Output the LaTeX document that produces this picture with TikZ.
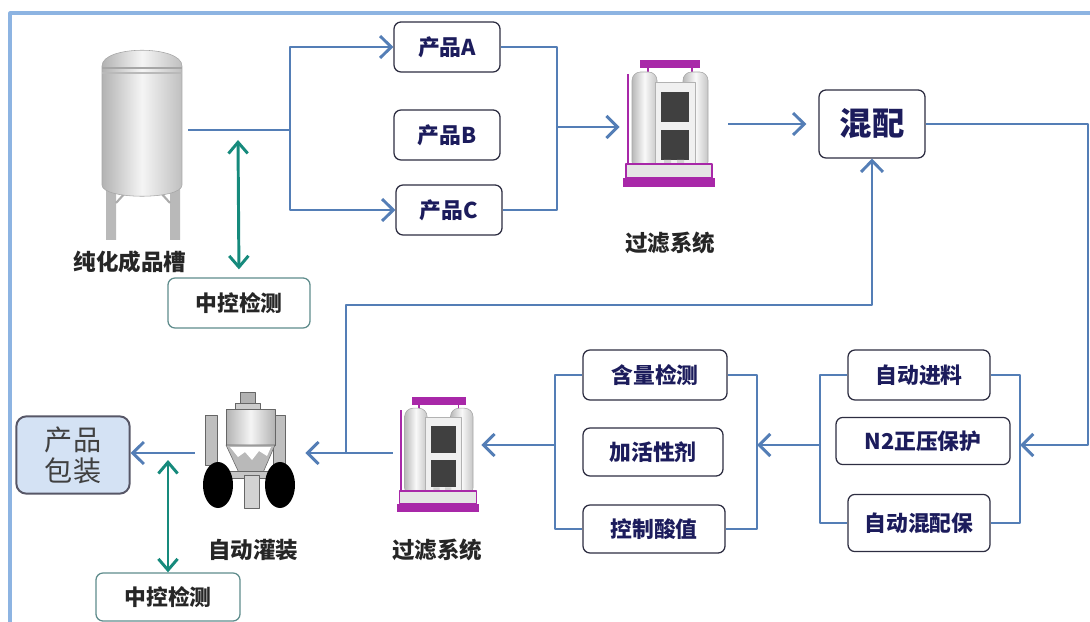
\documentclass[tikz,border=0pt]{standalone}
\usepackage{fontspec}
\newfontfamily\cjk{Noto Sans CJK SC}
\usetikzlibrary{arrows.meta}
\definecolor{flowblue}{RGB}{84,126,182}
\definecolor{framecol}{RGB}{141,180,226}
\definecolor{qcteal}{RGB}{22,138,124}
\definecolor{boxtext}{RGB}{28,28,92}
\definecolor{boxline}{RGB}{45,45,65}
\definecolor{qcline}{RGB}{95,140,140}
\definecolor{packfill}{RGB}{212,226,244}
\definecolor{fcol}{RGB}{168,40,168}

% bộ lọc: tâm x, tâm y, tỉ lệ
\newcommand{\filterpic}[3]{%
	\begin{scope}[shift={(#1,#2)},scale=#3]
		\fill[fcol] (-28,-64) rectangle (32,-56);
		\draw[fcol,line width=1pt] (-20,-56) -- (-20,-48) (24,-56) -- (24,-48);
		\draw[fcol,line width=1.2pt] (-40,-50) -- (-40,54);
		\shade[left color=gray!55,right color=gray!45,middle color=gray!5,draw=gray!70,rounded corners=6] (-36,-52) rectangle (-11,46);
		\shade[left color=gray!55,right color=gray!45,middle color=gray!5,draw=gray!70,rounded corners=6] (15,-52) rectangle (40,46);
		\fill[gray!12,draw=gray!60] (-13,-42) rectangle (27,46);
		\fill[black!75] (-7,-32) rectangle (21,-2);
		\fill[black!75] (-7,6) rectangle (21,36);
		\fill[gray!35] (-4,36) rectangle (3,48) (9,36) rectangle (16,48);
		\fill[gray!20,draw=fcol,line width=0.8pt] (-42,40) rectangle (44,54);
		\fill[fcol] (-45,54) rectangle (47,63);
	\end{scope}}

\begin{document}
\begin{tikzpicture}[x=0.025cm,y=-0.025cm,>={Straight Barb[length=2.8mm,width=5.5mm]},line join=round,
	box/.style={draw=boxline,fill=white,rounded corners=5pt,line width=0.9pt,text=boxtext,inner sep=0pt,
		font=\cjk\bfseries\fontsize{15.5}{15.5}\selectfont,minimum height=1.25cm},
	qcbox/.style={box,draw=qcline,text=black!85},
	packbox/.style={draw=boxline!80,fill=packfill,rounded corners=7pt,line width=1.4pt,text=black!75,
		font=\cjk\fontsize{20}{22}\selectfont,align=center,minimum width=2.83cm,minimum height=1.93cm,inner sep=0pt},
	lbl/.style={font=\cjk\bfseries\fontsize{16}{16}\selectfont,text=black!85},
	icon/.style={inner sep=0pt},
	flow/.style={draw=flowblue,line width=2.1pt},
	qc/.style={draw=qcteal,line width=2.1pt,{Straight Barb[length=2.8mm,width=4.8mm]}-{Straight Barb[length=2.8mm,width=4.8mm]}}]
	\useasboundingbox (0,0) rectangle (1090,622);
	\draw[framecol,line width=2.2pt] (1092,13) -- (10,13) -- (10,624);
	
	% bể chứa
	\fill[gray!55] (106,185) rectangle (116,240) (170,185) rectangle (180,240);
	\draw[gray!65,line width=1.5pt] (116,203) -- (126,192) (170,203) -- (160,192);
	\shade[left color=gray!60,right color=gray!50,middle color=gray!8,draw=gray!70] (102,66) .. controls (102,45) and (182,45) .. (182,66) -- (182,185) .. controls (182,200) and (102,200) .. (102,185) -- cycle;
	\draw[gray!70,line width=1.5pt] (102,68) -- (182,68);
	\draw[gray!55,line width=0.8pt] (102,73) -- (182,73);
	
	% các bộ lọc
	\filterpic{668}{124}{1}
	\filterpic{437}{455}{0.9}
	
	% máy chiết rót
	\begin{scope}[shift={(250,453)}]
		\fill[gray!60,draw=black!60] (-10,-61) rectangle (5,-49);
		\fill[gray!40,draw=black!60] (-15,-50) rectangle (10,-44);
		\fill[gray!50,draw=black!60] (-45,-38) rectangle (-33,12) (23,-38) rectangle (35,12);
		\shade[left color=gray!60,right color=gray!60,middle color=gray!8,draw=black!60] (-24,-44) rectangle (25,-8);
		\fill[gray!55,draw=black!60] (-24,-8) -- (25,-8) -- (12,22) -- (-10,22) -- cycle;
		\fill[white] (-20,-6) -- (21,-6) -- (17,3) -- (9,-2) -- (2,7) -- (-5,-1) -- (-12,4) -- cycle;
		\fill[gray!45,draw=black!60] (-35,18) rectangle (35,25);
		\fill[gray!35,draw=black!60] (-6,22) rectangle (9,55);
		\fill[black] (-32,32) ellipse [x radius=15,y radius=23];
		\fill[black] (30,32) ellipse [x radius=15,y radius=23];
	\end{scope}
	
	\node[icon,minimum width=2.7cm,minimum height=3.2cm] (tank) at (142,145) {};
	\node[icon,minimum width=2.7cm,minimum height=3.2cm] (filtA) at (674,124) {};
	\node[icon,minimum width=2.2cm,minimum height=3cm] (filtB) at (437,449) {};
	\node[icon,minimum width=2.75cm,minimum height=3cm] (fill) at (250,453) {};
	
	\node[lbl] (tanklbl) at (130,262) {纯化成品槽};
	\node[lbl] (filtAlbl) at (670,243) {过滤系统};
	\node[lbl] (filllbl) at (253,550) {自动灌装};
	\node[lbl] (filtBlbl) at (437,550) {过滤系统};
	
	\node[box,minimum width=2.65cm] (pa) at (447,47) {产品A};
	\node[box,minimum width=2.65cm] (pb) at (447,135) {产品B};
	\node[box,minimum width=2.65cm] (pc) at (449,210) {产品C};
	\node[box,minimum width=2.65cm,minimum height=1.7cm,font=\cjk\bfseries\fontsize{23}{23}\selectfont] (mix) at (872,124) {混配};
	\node[box,minimum width=3.55cm] (feed) at (919,375) {自动进料};
	\node[box,minimum width=4.35cm,minimum height=1.18cm] (ntwo) at (923,441) {N2正压保护};
	\node[box,minimum width=3.55cm,minimum height=1.43cm] (automix) at (919,523) {自动混配保};
	\node[box,minimum width=3.6cm] (content) at (655,375) {含量检测};
	\node[box,minimum width=3.5cm,minimum height=1.2cm] (activ) at (653,452) {加活性剂};
	\node[box,minimum width=3.55cm,minimum height=1.2cm] (acid) at (654,529) {控制酸值};
	\node[packbox] (pack) at (73,455) {产品\\包装};
	\node[qcbox,minimum width=3.55cm] (qcup) at (239,303) {中控检测};
	\node[qcbox,minimum width=3.6cm,minimum height=1.2cm] (qcdown) at (168,597) {中控检测};
	
	\coordinate (tankout) at (188,130);
	\coordinate (split) at (290,130);
	\coordinate (merge) at (557,127);
	\coordinate (rc) at (1088,445);
	\coordinate (rr) at (1020,445);
	\coordinate (rl) at (820,445);
	\coordinate (mr) at (757,445);
	\coordinate (ml) at (555,445);
	\coordinate (fb) at (346,453);
	\coordinate (fbturn) at (346,305);
	\coordinate (qcA) at (238,140);
	\coordinate (qcB) at (168,460);
	
	\draw[flow] (tankout) -- (split);
	\draw[flow,->] (split) |- (pa.west);
	\draw[flow,->] (split) |- (pc.west);
	\draw[flow] (pa.east) -| (merge) |- (pc.east);
	\draw[flow,->] (merge) -- (merge -| filtA.west);
	\draw[flow,->,shorten >=0.3cm] (filtA.east |- mix.west) -- (mix.west);
	\draw[flow,->] (mix.east) -| (rc) -- (rr);
	\draw[flow] (feed.west) -| (rl) |- (automix.west);
	\draw[flow] (feed.east) -| (rr) |- (automix.east);
	\draw[flow,->] (rl) -- (mr);
	\draw[flow] (content.west) -| (ml) |- (acid.west);
	\draw[flow] (content.east) -| (mr) |- (acid.east);
	\draw[flow,->] (ml) -- (ml -| filtB.east);
	\draw[flow,->] (filtB.west |- fb) -- (fb -| fill.east);
	\draw[flow,->] (fill.west) -- (fill.west -| pack.east);
	\draw[flow,->] (fb) -- (fbturn) -| (mix.south);
	\draw[qc,shorten >=0.2cm] (qcA) -- (qcup.north);
	\draw[qc] (qcB) -- (qcdown.north);
\end{tikzpicture}
\end{document}
